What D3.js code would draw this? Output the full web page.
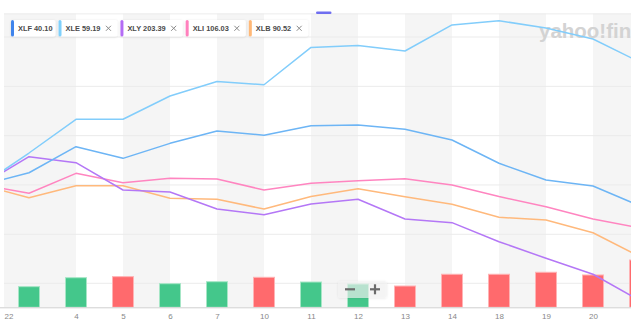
<!DOCTYPE html>
<html><head><meta charset="utf-8">
<script src="https://cdn.jsdelivr.net/npm/d3@7"></script>
<style>body{margin:0;background:#fff;} svg{display:block;font-family:"Liberation Sans",Arial,sans-serif;}</style>
</head><body><svg id="c" width="639" height="331"></svg>
<script>
// session index (-1 = starting session, hidden at left edge; 13 = partial session at right edge)
const sessions = [-1,0,1,2,3,4,5,6,7,8,9,10,11,12,13];
const tickSessions = [1,2,3,4,5,6,7,8,9,10,11,12];
const tickLabels = ["4","5","6","7","10","11","12","13","14","18","19","20"];
const firstLabel = "22";
// percent change since start
const XLE = [0, 3.24, 6.66, 6.66, 9.02, 10.49, 10.16, 13.94, 14.14, 13.58, 16.22, 16.65, 15.91, 14.80, 12.45];
const XLF = [0, 1.24, 3.88, 2.70, 4.22, 5.47, 5.04, 6.01, 6.08, 5.64, 4.56, 2.20, 0.50, -0.10, -2.12];
const XLY = [0, 2.87, 2.26, -0.51, -0.72, -2.44, -3.01, -1.93, -1.45, -3.45, -3.82, -5.75, -7.43, -9.05, -11.72];
const XLI = [0, -0.84, 1.18, 0.23, 0.68, 0.61, -0.51, 0.17, 0.43, 0.64, 0.00, -1.17, -2.20, -3.45, -4.35];
const XLB = [0, -1.29, -0.07, -0.07, -1.35, -1.45, -2.44, -1.17, -0.38, -1.19, -1.96, -3.28, -3.55, -4.84, -7.28];
// volume (millions) for sessions 0..13
const volSessions = [0,1,2,3,4,5,6,7,8,9,10,11,12,13];
const volume = [25.8, 37.0, 38.3, 29.5, 32.0, 37.5, 31.6, 29.1, 26.6, 41.3, 41.3, 43.8, 40.4, 59.1];
const volumeUp = [true, true, false, true, true, false, true, true, false, false, false, false, false, false];
// legend
const symbols = ["XLF","XLE","XLY","XLI","XLB"];
const prices = ["40.10","59.19","203.39","106.03","90.52"];
const legendColors = ["#3f84ec","#7fd0fb","#b46cf5","#ff80bd","#ffb877"];
const lineColors = ["#6db5f5","#82cdfb","#b477f6","#ff85c0","#ffb97c"];
// shaded session bands (start index, end index)
const bands = [[-1,1],[2,3],[4,5],[6,7],[8,9],[10,11],[12,13]];

const svg = d3.select("#c");
const pLeft = 4, pRight = 631, pTop = 13.3, pBottom = 307.3;

const x = d3.scaleLinear().domain([0, 12]).range([29, 593]);
const y = d3.scaleLinear().domain([-5, 15]).range([234.3, 37]);
const yv = d3.scaleLinear().domain([0, 30]).range([pBottom, 283.3]);

const defs = svg.append("defs");
defs.append("clipPath").attr("id","plot")
  .append("rect").attr("x", pLeft).attr("y", pTop).attr("width", pRight-pLeft).attr("height", pBottom-pTop);
const f = defs.append("filter").attr("id","sh").attr("x","-20%").attr("y","-40%").attr("width","140%").attr("height","180%");
f.append("feDropShadow").attr("dx",0).attr("dy",0.5).attr("stdDeviation",1).attr("flood-color","#000").attr("flood-opacity",0.12);

const g = svg.append("g").attr("clip-path","url(#plot)");
// bands
g.selectAll("rect.band").data(bands).join("rect").attr("class","band")
  .attr("x", d => x(d[0])).attr("width", d => x(d[1]) - x(d[0]))
  .attr("y", pTop).attr("height", pBottom - pTop).attr("fill", "#f5f5f5");

// gridlines
g.selectAll("line.gy").data(y.ticks(4)).join("line").attr("class","gy")
  .attr("x1", pLeft).attr("x2", pRight).attr("y1", d => y(d)).attr("y2", d => y(d))
  .attr("stroke", "#ebebeb").attr("stroke-width", 1);
g.append("line").attr("x1", pLeft).attr("x2", pRight).attr("y1", pTop+0.5).attr("y2", pTop+0.5).attr("stroke","#e8e8e8");
g.append("line").attr("x1", pLeft).attr("x2", pRight).attr("y1", yv(30)).attr("y2", yv(30)).attr("stroke","#ebebeb");

// watermark (clipped at the plot's right edge, as in the source)
g.append("text").attr("x", 539).attr("y", 38).attr("font-size", 20.5).attr("font-weight", "bold")
  .attr("fill", "#d3d3d3").text("yahoo!finance");

// volume bars
const bw = 21;
g.selectAll("rect.vol").data(volSessions).join("rect").attr("class","vol")
  .attr("x", (d) => x(d) - bw/2).attr("width", bw)
  .attr("y", (d,i) => yv(volume[i])).attr("height", (d,i) => pBottom - yv(volume[i]))
  .attr("fill", (d,i) => volumeUp[i] ? "#44c78b" : "#ff6a6d")
  .attr("stroke", (d,i) => volumeUp[i] ? "#a6e6c6" : "#ffb3b5").attr("stroke-width", 1);

// lines
const series = [XLF, XLE, XLY, XLI, XLB];
const line = d3.line().x((d,i) => x(sessions[i])).y(d => y(d));
const order = [4,3,2,0,1];
order.forEach(k => {
  g.append("path").datum(series[k]).attr("d", line)
    .attr("fill","none").attr("stroke", lineColors[k]).attr("stroke-width", 1.5).attr("stroke-linejoin","round");
});

// axis
svg.append("line").attr("x1", 0).attr("x2", pRight).attr("y1", pBottom+0.5).attr("y2", pBottom+0.5).attr("stroke","#cfcfcf");
const xa = d3.axisBottom(x).tickValues(tickSessions).tickFormat((d,i) => tickLabels[i]).tickSize(0).tickPadding(6);
const ag = svg.append("g").attr("transform", `translate(0,${pBottom})`).call(xa);
ag.select(".domain").remove();
ag.selectAll("text").attr("font-size", 8).attr("fill", "#888").attr("font-family", "Liberation Sans, Arial, sans-serif");
svg.append("text").attr("x", x(0) - 20).attr("y", pBottom + 12).attr("text-anchor","middle")
  .attr("font-size", 8).attr("fill", "#888").text(firstLabel);

// zoom control
const zc = svg.append("g");
zc.append("rect").attr("x", 338).attr("y", 281).attr("width", 49).attr("height", 17).attr("rx", 3)
  .attr("fill", "#f4f4f4").attr("fill-opacity", 0.65).attr("filter","url(#sh)");
zc.append("rect").attr("x", 345).attr("y", 288.2).attr("width", 10).attr("height", 2.2).attr("fill", "#6b6b6b");
zc.append("rect").attr("x", 370).attr("y", 288.2).attr("width", 10).attr("height", 2.2).attr("fill", "#6b6b6b");
zc.append("rect").attr("x", 373.9).attr("y", 284.3).attr("width", 2.2).attr("height", 10).attr("fill", "#6b6b6b");

// top handle
svg.append("rect").attr("x", 316).attr("y", 11.5).attr("width", 15.5).attr("height", 2.5).attr("rx", 1.2).attr("fill", "#6f6ef0");

// legend chips
let cx = 11;
symbols.forEach((s, i) => {
  const chip = svg.append("g").attr("transform", `translate(${cx},20)`);
  const bg = chip.append("rect").attr("y", 0).attr("height", 16.5).attr("rx", 2).attr("fill", "#fff").attr("filter","url(#sh)");
  chip.append("rect").attr("x", 0).attr("y", 0).attr("width", 3).attr("height", 16.5).attr("rx", 1.5).attr("fill", legendColors[i]);
  const t = chip.append("text").attr("x", 7).attr("y", 11.2).attr("font-size", 7.4).attr("font-weight", "bold")
    .attr("fill", "#4a4a4a").text(`${s} ${prices[i]}`);
  let w = 7 + t.node().getComputedTextLength();
  if (i > 0) {
    const xx = w + 8;
    chip.append("path").attr("d", `M${xx-2.5},${5.8}L${xx+2.5},${10.8}M${xx+2.5},${5.8}L${xx-2.5},${10.8}`)
      .attr("stroke", "#8a8a8a").attr("stroke-width", 1);
    w = xx + 9;
  } else {
    w += 3;
  }
  bg.attr("width", w);
  cx += w + 3;
});
</script></body></html>
